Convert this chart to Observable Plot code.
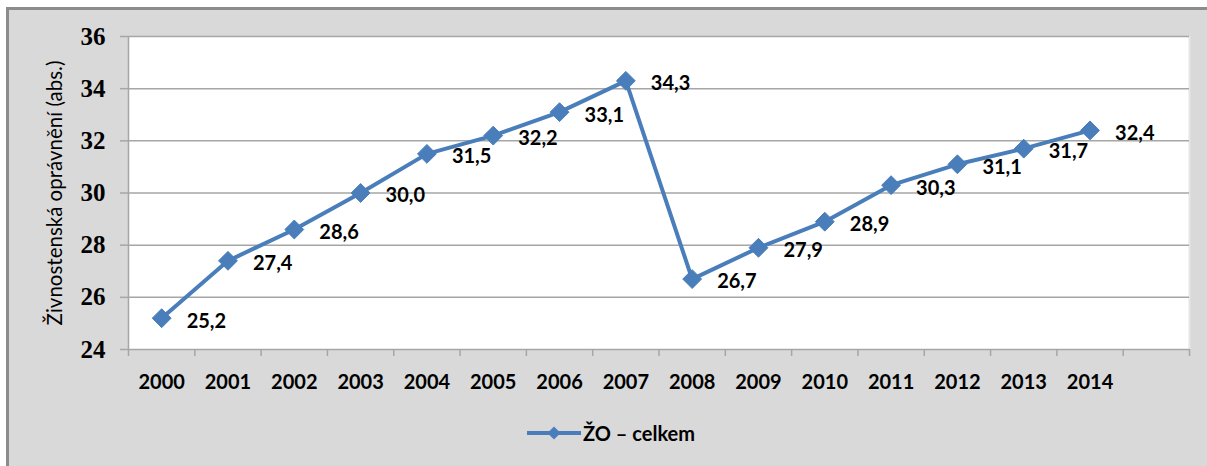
<!DOCTYPE html>
<html>
<head>
<meta charset="utf-8">
<script src="https://cdn.jsdelivr.net/npm/d3@7"></script>
<script src="https://cdn.jsdelivr.net/npm/@observablehq/plot@0.6"></script>
<style>
  html, body { margin: 0; padding: 0; background: #ffffff; width: 1207px; height: 466px; overflow: hidden; }
  #panel { position: absolute; left: 6px; top: 7px; width: 1220px; height: 480px; background: #d9d9d9;
           border-left: 3px solid #8c8c8c; border-top: 3px solid #8c8c8c; }
  #chart { position: absolute; left: 0; top: 0; }
  #legend { position: absolute; left: 527px; top: 419px; height: 28px; display: flex; align-items: center;
            font-family: Lato, "Open Sans", sans-serif; font-size: 20px; font-weight: bold; color: #000; }
  #legend svg { display: block; }
</style>
</head>
<body>
<div id="panel"></div>
<div id="chart"></div>
<div id="legend"></div>
<script>
const years = ["2000","2001","2002","2003","2004","2005","2006","2007","2008","2009","2010","2011","2012","2013","2014"];
const values = [25.2, 27.4, 28.6, 30.0, 31.5, 32.2, 33.1, 34.3, 26.7, 27.9, 28.9, 30.3, 31.1, 31.7, 32.4];
const yTicks = [24, 26, 28, 30, 32, 34, 36];
const seriesName = "ŽO – celkem";
const yTitle = "Živnostenská oprávnění (abs.)";

const blue = "#4a7ebb";
const gridGray = "#a6a6a6";
const slots = years.length + 1; // one empty category at the end
const data = years.map((year, i) => ({year, i, value: values[i]}));
const boundaries = d3.range(slots + 1);
const centers = years.map((_, i) => i + 0.5);
const fmt = v => v.toFixed(1).replace(".", ",");

const chart = Plot.plot({
  width: 1207,
  height: 400,
  marginLeft: 128,
  marginRight: 18,
  marginTop: 36,
  marginBottom: 51,
  style: {background: "transparent", overflow: "visible"},
  x: {type: "linear", domain: [0, slots], axis: null},
  y: {domain: [yTicks[0], yTicks[yTicks.length - 1]], axis: null},
  marks: [
    Plot.frame({fill: "white", stroke: null}),
    Plot.ruleX([slots], {stroke: "#e6e6e6", strokeWidth: 2}),
    Plot.ruleY(yTicks, {stroke: gridGray, strokeWidth: 1.5}),
    Plot.ruleX([0], {stroke: gridGray, strokeWidth: 1.5}),
    Plot.axisY({ticks: yTicks, tickSize: 8, text: null, label: null, stroke: gridGray, strokeWidth: 1.5}),
    Plot.axisY({ticks: yTicks, tickSize: 0, tickPadding: 23, label: null, fill: "#000",
      fontFamily: "'Liberation Serif', 'DejaVu Serif', serif", fontSize: 25, fontWeight: "bold"}),
    Plot.axisX({ticks: boundaries, tickSize: 7, text: null, label: null, stroke: gridGray, strokeWidth: 1.5}),
    Plot.axisX({ticks: centers, tickSize: 0, tickPadding: 25, label: null, fill: "#000",
      tickFormat: v => years[Math.round(v - 0.5)],
      fontFamily: "Lato, 'Open Sans', sans-serif", fontSize: 20, fontWeight: "bold"}),
    Plot.text([yTitle], {frameAnchor: "left", dx: -73, rotate: -90, textAnchor: "middle", text: d => d, fill: "#000",
      fontFamily: "Lato, 'Open Sans', sans-serif", fontSize: 20.5}),
    Plot.line(data, {x: d => d.i + 0.5, y: "value", stroke: blue, strokeWidth: 4}),
    Plot.dot(data, {x: d => d.i + 0.5, y: "value", symbol: "diamond2", r: 8.5, fill: blue, stroke: blue, strokeWidth: 1}),
    Plot.text(data, {x: d => d.i + 0.5, y: "value", text: d => fmt(d.value), dx: 25, dy: 3, textAnchor: "start",
      fill: "#000", fontFamily: "Lato, 'Open Sans', sans-serif", fontSize: 20, fontWeight: "bold"})
  ]
});
document.getElementById("chart").appendChild(chart);

// legend
const lg = d3.select("#legend");
const sw = lg.append("svg").attr("width", 56).attr("height", 28);
sw.append("line").attr("x1", 0).attr("x2", 54).attr("y1", 14).attr("y2", 14).attr("stroke", blue).attr("stroke-width", 4);
sw.append("path").attr("d", d3.symbol(d3.symbolDiamond2, 110)()).attr("transform", "translate(27,14)").attr("fill", blue);
lg.append("span").text(seriesName);
</script>
</body>
</html>
